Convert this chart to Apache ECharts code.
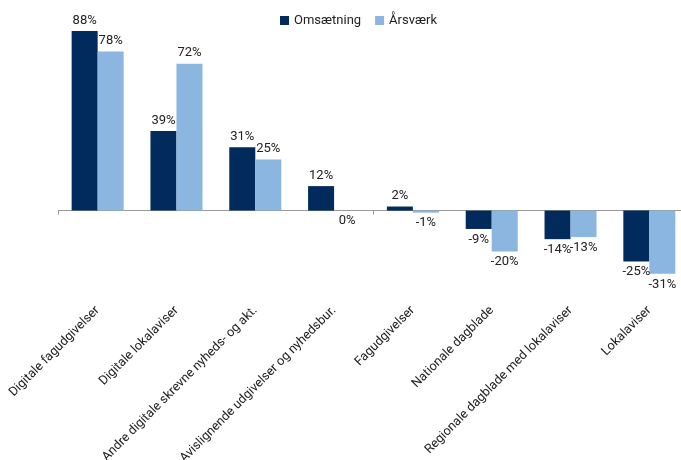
<!DOCTYPE html>
<html>
<head>
<meta charset="utf-8">
<script src="https://cdn.jsdelivr.net/npm/echarts@6/dist/echarts.min.js"></script>
<style>html,body{margin:0;padding:0;background:#fff}#c{width:681px;height:460px}</style>
</head>
<body>
<div id="c"></div>
<script>
const categories = ['Digitale fagudgivelser','Digitale lokalaviser','Andre digitale skrevne nyheds- og akt.','Avislignende udgivelser og nyhedsbur.','Fagudgivelser','Nationale dagblade','Regionale dagblade med lokalaviser','Lokalaviser'];
const omsaetning = [88, 39, 31, 12, 2, -9, -14, -25];
const aarsvaerk = [78, 72, 25, 0, -1, -20, -13, -31];
const seriesNames = ['Omsætning', 'Årsværk'];

const FONT = 'Roboto';
function withLabels(arr) {
  return arr.map(v => ({ value: v, label: { position: v > 0 ? 'top' : 'bottom' } }));
}
const chart = echarts.init(document.getElementById('c'));
chart.setOption({
  animation: false,
  textStyle: { fontFamily: FONT },
  legend: {
    top: 9, left: 275,
    itemWidth: 9, itemHeight: 9, itemGap: 14,
    icon: 'rect',
    textStyle: { fontSize: 13, color: '#222', fontFamily: FONT },
    data: seriesNames
  },
  grid: { left: 58.25, width: 630.5, top: 6.6, height: 295.8, outerBoundsMode: 'none', containLabel: false },
  xAxis: [
    {
      type: 'category', data: categories,
      axisLine: { onZero: true, lineStyle: { color: '#999' } },
      axisTick: { show: true, length: 4, lineStyle: { color: '#999' } },
      axisLabel: { show: false }
    },
    {
      type: 'category', data: categories, position: 'bottom',
      axisLine: { show: false, onZero: false }, axisTick: { show: false },
      axisLabel: { interval: 0, rotate: 45, margin: 6, fontSize: 12.7, color: '#222', fontFamily: FONT }
    }
  ],
  yAxis: { type: 'value', min: -45, max: 100, show: false, splitLine: { show: false } },
  series: [
    {
      name: seriesNames[0], type: 'bar', data: withLabels(omsaetning),
      barGap: '0%', barCategoryGap: '34%',
      itemStyle: { color: '#002B5C' },
      label: { show: true, formatter: '{c}%', fontSize: 13, color: '#222', distance: 4, fontFamily: FONT }
    },
    {
      name: seriesNames[1], type: 'bar', data: withLabels(aarsvaerk),
      barGap: '0%', barCategoryGap: '34%',
      itemStyle: { color: '#8AB6E0' },
      label: { show: true, formatter: '{c}%', fontSize: 13, color: '#222', distance: 4, fontFamily: FONT }
    }
  ]
});
</script>
</body>
</html>
